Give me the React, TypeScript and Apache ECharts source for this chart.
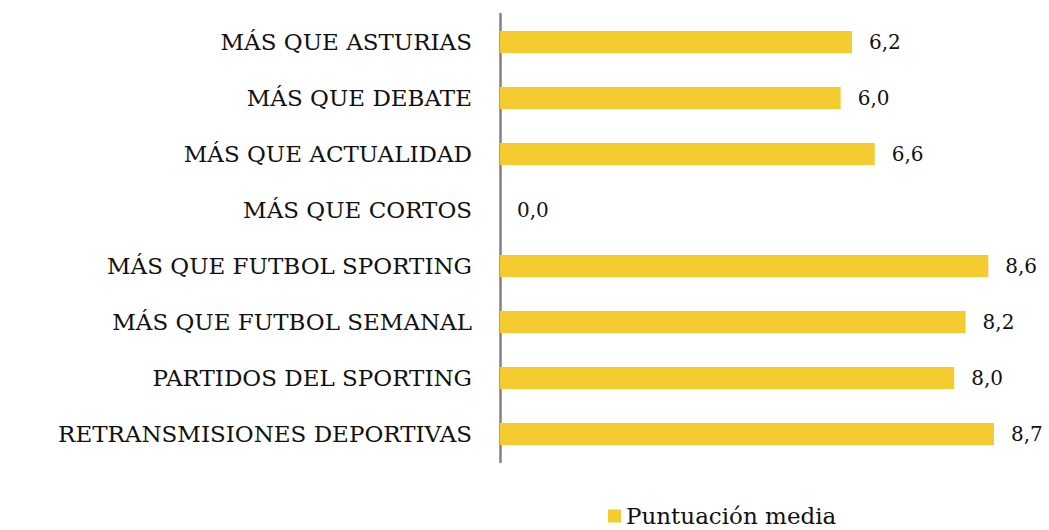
import React, { useEffect, useRef } from "react";
import * as echarts from "echarts";

const categories = [
  "MÁS QUE ASTURIAS",
  "MÁS QUE DEBATE",
  "MÁS QUE ACTUALIDAD",
  "MÁS QUE CORTOS",
  "MÁS QUE FUTBOL SPORTING",
  "MÁS QUE FUTBOL SEMANAL",
  "PARTIDOS DEL SPORTING",
  "RETRANSMISIONES DEPORTIVAS",
];
const values = [6.2, 6.0, 6.6, 0.0, 8.6, 8.2, 8.0, 8.7];
const seriesName = "Puntuación media";

const FONT = "'DejaVu Serif', serif";

export default function App() {
  const ref = useRef<HTMLDivElement>(null);
  useEffect(() => {
    const chart = echarts.init(ref.current!, null, { renderer: "svg" });
    chart.setOption({
      animation: false,
      grid: { left: 500, top: 14, width: 511, height: 448 },
      legend: {
        data: [seriesName],
        left: 608,
        top: 503,
        padding: 0,
        itemWidth: 13,
        itemHeight: 13,
        itemGap: 6,
        textStyle: { fontFamily: FONT, fontSize: 23, color: "#111", lineHeight: 26 },
        icon: "rect",
      },
      xAxis: {
        type: "value",
        min: 0,
        max: 9,
        show: false,
      },
      yAxis: {
        type: "category",
        data: categories,
        inverse: true,
        axisLine: { show: true, lineStyle: { color: "#808080", width: 2.5 } },
        axisTick: { show: false },
        axisLabel: {
          fontFamily: FONT,
          fontSize: 23,
          color: "#111",
          margin: 28,
        },
      },
      series: [
        {
          name: seriesName,
          type: "bar",
          data: values,
          barWidth: 22,
          itemStyle: { color: "#F4CC2F" },
          label: {
            show: true,
            position: "right",
            distance: 17,
            fontFamily: FONT,
            fontSize: 20,
            color: "#111",
            formatter: (p: any) => Number(p.value).toFixed(1).replace(".", ","),
          },
        },
      ],
    });
    return () => chart.dispose();
  }, []);
  return (
    <div
      ref={ref}
      style={{ position: "fixed", left: 0, top: 0, width: 1049, height: 530, background: "#fff" }}
    />
  );
}
